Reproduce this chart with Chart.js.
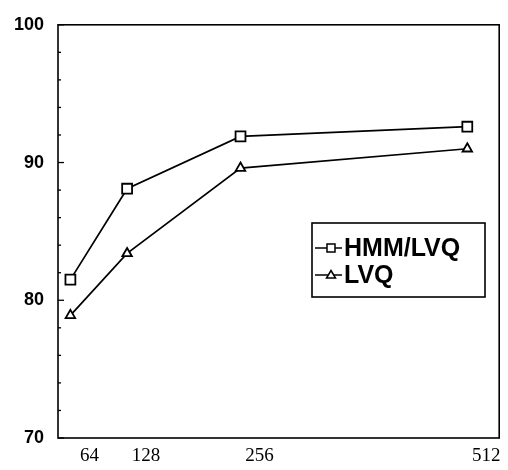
<!DOCTYPE html>
<html>
<head>
<meta charset="utf-8">
<script src="https://cdn.jsdelivr.net/npm/chart.js@4/dist/chart.umd.min.js"></script>
<style>
  html, body { margin: 0; padding: 0; background: #fff; }
  #wrap { width: 508px; height: 470px; }
</style>
</head>
<body>
<div id="wrap"><canvas id="c" width="508" height="470"></canvas></div>
<script>
// ---- data ----
const xValues = [64, 128, 256, 512];
const xTickLabels = ['64', '128', '256', '512'];
const yTickLabels = [70, 80, 90, 100];
const seriesNames = ['HMM/LVQ', 'LVQ'];
const hmmLvq = [81.5, 88.1, 91.9, 92.6];
const lvq = [78.9, 83.4, 89.6, 91.0];

const toPoints = (ys) => xValues.map((x, i) => ({ x: x, y: ys[i] }));

const framePlugin = {
  id: 'frame',
  afterDatasetsDraw(chart) {
    const { ctx, chartArea: a, scales } = chart;
    ctx.save();
    ctx.strokeStyle = '#000';
    ctx.lineWidth = 1.6;
    ctx.strokeRect(a.left, a.top, a.right - a.left, a.bottom - a.top);
    // inward ticks on the left axis: minor every 2, major every 10
    ctx.lineWidth = 1.3;
    for (let v = 70; v <= 100; v += 2) {
      const y = scales.y.getPixelForValue(v);
      const len = (v % 10 === 0) ? 6 : 3;
      ctx.beginPath();
      ctx.moveTo(a.left, y);
      ctx.lineTo(a.left + len, y);
      ctx.stroke();
    }
    ctx.restore();
  }
};

const boxLegendPlugin = {
  id: 'boxLegend',
  afterDraw(chart, args, opts) {
    const { ctx } = chart;
    ctx.save();
    ctx.strokeStyle = '#000';
    ctx.lineWidth = 1.6;
    ctx.strokeRect(opts.x, opts.y, opts.w, opts.h);
    ctx.font = opts.font;
    ctx.fillStyle = '#000';
    ctx.textBaseline = 'middle';
    chart.data.datasets.forEach((ds, i) => {
      const cy = opts.y + opts.firstRow + i * opts.rowGap;
      ctx.lineWidth = 1.5;
      ctx.beginPath();
      ctx.moveTo(opts.x + 3, cy);
      ctx.lineTo(opts.x + 30, cy);
      ctx.stroke();
      const px = opts.x + 19;
      ctx.fillStyle = '#fff';
      ctx.beginPath();
      if (ds.pointStyle === 'rect') {
        ctx.rect(px - 4, cy - 4, 8, 8);
      } else {
        ctx.moveTo(px, cy - 4.5);
        ctx.lineTo(px + 4.5, cy + 3);
        ctx.lineTo(px - 4.5, cy + 3);
        ctx.closePath();
      }
      ctx.fill();
      ctx.stroke();
      ctx.fillStyle = '#000';
      ctx.fillText(ds.label, opts.x + 32, cy + 1);
    });
    ctx.restore();
  }
};

new Chart(document.getElementById('c'), {
  type: 'line',
  data: {
    datasets: [
      {
        label: seriesNames[0],
        data: toPoints(hmmLvq),
        borderColor: '#000',
        borderWidth: 1.7,
        pointStyle: 'rect',
        pointRadius: 7,
        pointBorderWidth: 1.8,
        pointBackgroundColor: '#fff',
        pointBorderColor: '#000',
        tension: 0
      },
      {
        label: seriesNames[1],
        data: toPoints(lvq),
        borderColor: '#000',
        borderWidth: 1.7,
        pointStyle: 'triangle',
        pointRadius: 5.5,
        pointBorderWidth: 1.8,
        pointBackgroundColor: '#fff',
        pointBorderColor: '#000',
        tension: 0
      }
    ]
  },
  options: {
    responsive: false,
    animation: false,
    layout: { padding: { top: 15, right: 4, bottom: 0, left: 0 } },
    plugins: {
      legend: { display: false },
      tooltip: { enabled: false },
      boxLegend: {
        x: 312, y: 223, w: 173, h: 74,
        firstRow: 25, rowGap: 27,
        font: 'bold 25px "Liberation Sans", Arial, sans-serif'
      }
    },
    scales: {
      x: {
        type: 'linear',
        min: 50,
        max: 548,
        afterBuildTicks(scale) {
          scale.ticks = xValues.map(v => ({ value: v }));
        },
        afterFit(scale) { scale.height = 32; },
        grid: { display: false, drawTicks: false },
        border: { display: false },
        ticks: {
          callback: (v) => xTickLabels[xValues.indexOf(v)] || '',
          autoSkip: false,
          maxRotation: 0,
          padding: 7,
          labelOffset: 19,
          color: '#000',
          font: { family: '"Liberation Serif", "Times New Roman", serif', size: 19 }
        }
      },
      y: {
        min: 70,
        max: 100,
        afterBuildTicks(scale) {
          scale.ticks = yTickLabels.map(v => ({ value: v }));
        },
        afterFit(scale) { scale.width = 58; },
        grid: { display: false, drawTicks: false },
        border: { display: false },
        ticks: {
          padding: 14,
          color: '#000',
          font: { family: '"Liberation Sans", Arial, sans-serif', size: 18, weight: 'bold' }
        }
      }
    }
  },
  plugins: [framePlugin, boxLegendPlugin]
});
</script>
</body>
</html>
